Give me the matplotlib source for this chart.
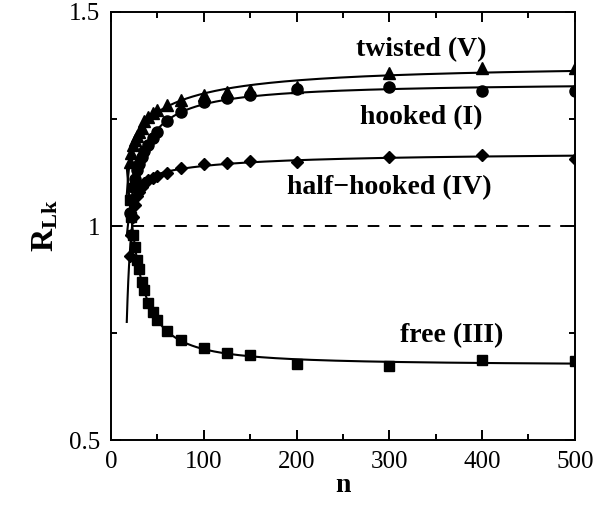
import numpy as np
import matplotlib
matplotlib.use("Agg")
import matplotlib.pyplot as plt
from matplotlib.ticker import MultipleLocator

plt.rcParams['font.family'] = ['Liberation Serif', 'DejaVu Serif']
plt.rcParams['mathtext.fontset'] = 'custom'
plt.rcParams['mathtext.rm'] = 'Liberation Serif'
plt.rcParams['mathtext.bf'] = 'Liberation Serif:bold'

# chain length n
n = [20, 22, 24, 26, 28, 30, 33, 36, 40, 45, 50, 60, 75, 100, 125, 150, 200, 300, 400, 500]

twisted = [1.15, 1.17, 1.19, 1.20, 1.21, 1.22, 1.23, 1.245, 1.255, 1.265, 1.271, 1.283,
           1.294, 1.305, 1.312, 1.318, 1.325, 1.357, 1.369, 1.370]
hooked = [1.03, 1.06, 1.09, 1.11, 1.13, 1.145, 1.16, 1.175, 1.19, 1.205, 1.22, 1.245,
          1.266, 1.29, 1.30, 1.305, 1.32, 1.325, 1.316, 1.316]
half_hooked = [0.93, 0.98, 1.02, 1.05, 1.07, 1.08, 1.09, 1.10, 1.107, 1.113, 1.117, 1.124,
               1.135, 1.145, 1.147, 1.152, 1.15, 1.161, 1.166, 1.157]
free = [1.06, 1.02, 0.98, 0.95, 0.92, 0.90, 0.87, 0.85, 0.82, 0.80, 0.78, 0.755,
        0.734, 0.715, 0.703, 0.699, 0.678, 0.673, 0.687, 0.685]

series = [(twisted, '^', 8.0), (hooked, 'o', 8.0), (half_hooked, 'D', 6.0), (free, 's', 7.5)]

fig = plt.figure(figsize=(6.0, 5.16), dpi=100)
ax = fig.add_axes([0.185, 0.147, 0.773, 0.83])

nn = np.linspace(17, 500, 600)
x = np.array(n, dtype=float)
for vals, mk, ms in series:
    # smooth fit in 1/n, like the fitted curves of the original
    coef = np.polyfit(1.0 / x, np.array(vals), 3)
    ax.plot(nn, np.polyval(coef, 1.0 / nn), color='black', lw=1.5, zorder=2)
    ax.plot(n, vals, linestyle='none', marker=mk, ms=ms, color='black', zorder=3)

ax.axhline(1.0, color='black', lw=1.4, dashes=(6, 5), zorder=1)

ax.set_xlim(0, 500)
ax.set_ylim(0.5, 1.5)
ax.xaxis.set_major_locator(MultipleLocator(100))
ax.xaxis.set_minor_locator(MultipleLocator(50))
ax.yaxis.set_minor_locator(MultipleLocator(0.25))
ax.set_yticks([0.5, 1.0, 1.5])
ax.set_yticklabels(['0.5', '1', '1.5'])
ax.tick_params(which='both', direction='in', top=True, right=True, width=1.4,
               labelsize=18, pad=8)
ax.tick_params(which='major', length=7)
ax.tick_params(which='minor', length=4)
for s in ax.spines.values():
    s.set_linewidth(1.4)

ax.set_xlabel('n', fontsize=20, fontweight='bold', labelpad=0)
ax.set_ylabel(r'$\mathbf{R_{Lk}}$', fontsize=23, labelpad=6)

lab = dict(fontsize=20, fontweight='bold', ha='center', va='center')
ax.text(335, 1.411, 'twisted (V)', **lab)
ax.text(335, 1.252, 'hooked (I)', **lab)
ax.text(300, 1.089, 'half\u2212hooked (IV)', **lab)
ax.text(367, 0.745, 'free (III)', **lab)

fig.savefig('out.png', dpi=100)
